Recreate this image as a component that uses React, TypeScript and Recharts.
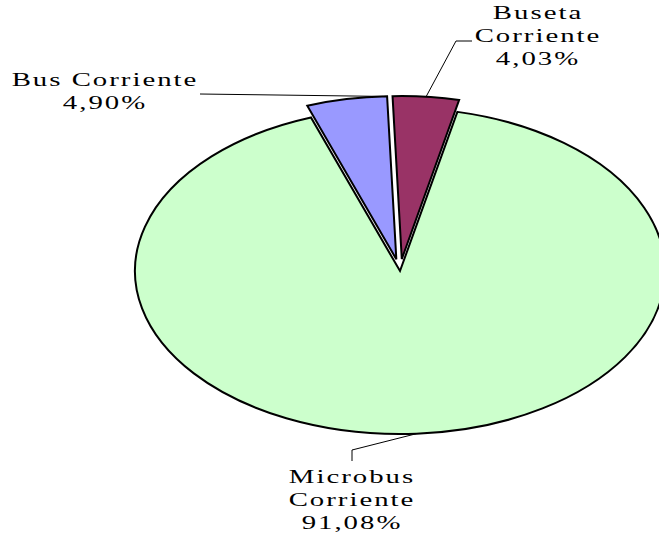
import React from 'react';
import { PieChart, Pie, Cell } from 'recharts';

// ---- data ----
const categories = ['Buseta Corriente', 'Microbus Corriente', 'Bus Corriente'];
const shares = [4.03, 91.08, 4.9];
const labelLines: string[][] = [['Buseta', 'Corriente'], ['Microbus', 'Corriente'], ['Bus Corriente']];

// ---- styles / layout ----
const colors = ['#993366', '#CCFFCC', '#9999FF'];
const exploded = [true, false, true];

const data = categories.map((name, i) => ({ name, value: shares[i] }));

const W = 659;
const H = 539;
const CX = 400;
const CY = 271;
const RY = 163;
const SX = 265 / 163;
const START = 92;
const END = START - 360;
const EXPLODE = 12;
const FONT = "'Liberation Serif', 'Times New Roman', serif";
const FS = 18;
const LH = 23;
const TEXT_SX = 1.6;

// label layout relative to pie centre
const labelLayout = [
  { tx: 138, ty: -252, anchorFrac: 0.5, leader: [[56, -230], [72, -230]] },
  { tx: -48, ty: 212, anchorFrac: 0.5, leader: [[-48, 179], [-48, 190]] },
  { tx: -295, ty: -185, anchorFrac: 0.95, leader: [[-200, -177]] },
];

const total = shares.reduce((a, b) => a + b, 0);
const sliceAngles = (() => {
  let a = START;
  return shares.map((v) => {
    const s = a;
    const e = a + ((END - START) * v) / total;
    a = e;
    return [s, e];
  });
})();

const RAD = Math.PI / 180;
const explodeOffset = (i: number) => {
  if (!exploded[i]) return [0, 0];
  const [s, e] = sliceAngles[i];
  const mid = (s + e) / 2;
  return [EXPLODE * SX * Math.cos(mid * RAD), -EXPLODE * Math.sin(mid * RAD)];
};

const fmt = (v: number) => `${v.toFixed(2).replace('.', ',')}%`;

const indexOfProps = (props: any) => {
  const name = props?.name ?? props?.payload?.name;
  const idx = categories.indexOf(name);
  if (idx >= 0) return idx;
  return typeof props?.index === 'number' ? props.index : 0;
};

const EllipseSector = (props: any) => {
  const { cx, cy, outerRadius, startAngle, endAngle, fill, stroke, strokeWidth } = props;
  const i = indexOfProps(props);
  const [dx, dy] = explodeOffset(i);
  const rx = outerRadius * SX;
  const ry = outerRadius;
  const ox = cx + dx;
  const oy = cy + dy;
  const p = (a: number) => [ox + rx * Math.cos(a * RAD), oy - ry * Math.sin(a * RAD)];
  const [x1, y1] = p(startAngle);
  const [x2, y2] = p(endAngle);
  const large = Math.abs(startAngle - endAngle) > 180 ? 1 : 0;
  const sweep = startAngle > endAngle ? 1 : 0;
  const d = `M ${ox},${oy} L ${x1},${y1} A ${rx} ${ry} 0 ${large} ${sweep} ${x2},${y2} Z`;
  return (
    <path
      d={d}
      fill={fill}
      stroke={stroke || '#000'}
      strokeWidth={strokeWidth || 2}
      strokeLinejoin="miter"
    />
  );
};

const renderLabel = (props: any) => {
  const { cx, cy, outerRadius } = props;
  const i = indexOfProps(props);
  const lay = labelLayout[i];
  const [s, e] = sliceAngles[i];
  const a = s + (e - s) * lay.anchorFrac;
  const [dx, dy] = explodeOffset(i);
  const ax = cx + dx + outerRadius * SX * Math.cos(a * RAD);
  const ay = cy + dy - outerRadius * Math.sin(a * RAD);
  const pts = [[ax, ay], ...lay.leader.map(([lx, ly]) => [cx + lx, cy + ly])];
  const lines = [...labelLines[i], fmt(shares[i])];
  return (
    <g key={`lbl-${i}`}>
      <polyline
        points={pts.map((q) => q.join(',')).join(' ')}
        fill="none"
        stroke="#000"
        strokeWidth={1}
      />
      {lines.map((t, k) => (
        <text
          key={k}
          transform={`translate(${cx + lay.tx},${cy + lay.ty + k * LH}) scale(${TEXT_SX},1)`}
          x={0}
          y={0}
          textAnchor="middle"
          fontFamily={FONT}
          fontSize={FS}
          letterSpacing={1.25}
          fill="#000"
        >
          {t}
        </text>
      ))}
    </g>
  );
};

export default function App() {
  return (
    <div style={{ position: 'absolute', left: 0, top: 0, width: W, height: H, background: '#fff' }}>
      <PieChart width={W} height={H} margin={{ top: 0, right: 0, bottom: 0, left: 0 }}>
        <Pie
          data={data}
          dataKey="value"
          nameKey="name"
          cx={CX}
          cy={CY}
          outerRadius={RY}
          innerRadius={0}
          startAngle={START}
          endAngle={END}
          stroke="#000"
          strokeWidth={2}
          isAnimationActive={false}
          labelLine={false}
          label={renderLabel}
          shape={EllipseSector}
          activeShape={EllipseSector}
          inactiveShape={EllipseSector}
        >
          {data.map((d, i) => (
            <Cell key={d.name} fill={colors[i]} />
          ))}
        </Pie>
      </PieChart>
    </div>
  );
}
